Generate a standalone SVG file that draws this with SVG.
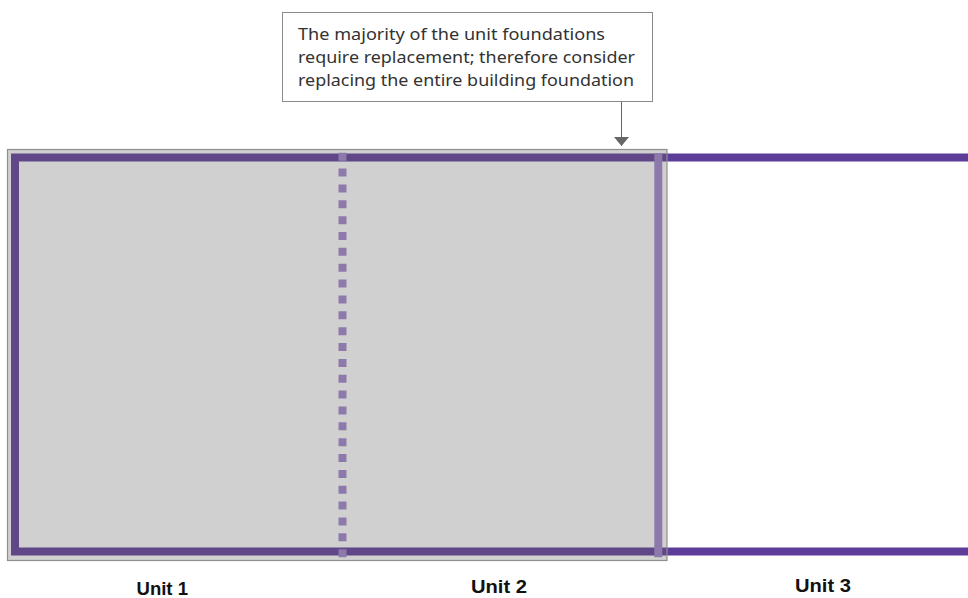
<svg xmlns="http://www.w3.org/2000/svg" width="968" height="598" viewBox="0 0 968 598">
<style>
.wall{stroke:#5e3c99;stroke-width:8;fill:none}
.shade{fill:rgb(100,100,100);fill-opacity:0.3;stroke:#8f8f8f;stroke-width:1.2}
.light{stroke:#8d7aab;stroke-width:8;fill:none}
.note{font-family:"Noto Sans","DejaVu Sans",sans-serif;font-size:15.5px;fill:#333}
.unit{font-family:"Liberation Sans",Arial,sans-serif;font-size:18px;font-weight:bold;fill:#111}
</style>
<defs>
<marker id="ah" markerWidth="10" markerHeight="16" refX="9" refY="8" markerUnits="userSpaceOnUse" orient="auto" viewBox="0 0 10 16">
<path d="M0,0.5 L9,8 L0,15.5 Z" fill="#666"/>
</marker>
</defs>
<rect width="968" height="598" fill="#fff"/>
<g id="building">
<path class="wall" d="M968,157.5 H15 V551.5 H968"/>
<rect class="shade" x="7.5" y="149.5" width="659.5" height="411"/>
<line class="light" x1="342.5" y1="152.7" x2="342.5" y2="557.5" stroke-dasharray="8 7.86"/>
<line class="light" x1="658.3" y1="153.3" x2="658.3" y2="557.3"/>
</g>
<g id="callout">
<rect x="282.5" y="12.5" width="370" height="89" fill="#fff" stroke="#8a8a8a" stroke-width="1"/>
<text class="note" x="298" y="40" textLength="307" lengthAdjust="spacingAndGlyphs">The majority of the unit foundations</text>
<text class="note" x="298" y="63" textLength="337" lengthAdjust="spacingAndGlyphs">require replacement; therefore consider</text>
<text class="note" x="298" y="86" textLength="336" lengthAdjust="spacingAndGlyphs">replacing the entire building foundation</text>
</g>
<g id="connectors">
<line x1="621.5" y1="102" x2="621.5" y2="146" stroke="#666" stroke-width="1" marker-end="url(#ah)"/>
</g>
<g id="unit1"><text class="unit" x="136.5" y="595" textLength="51.5" lengthAdjust="spacingAndGlyphs">Unit 1</text></g>
<g id="unit2"><text class="unit" x="471" y="593" textLength="56" lengthAdjust="spacingAndGlyphs">Unit 2</text></g>
<g id="unit3"><text class="unit" x="795" y="592" textLength="56" lengthAdjust="spacingAndGlyphs">Unit 3</text></g>
</svg>
